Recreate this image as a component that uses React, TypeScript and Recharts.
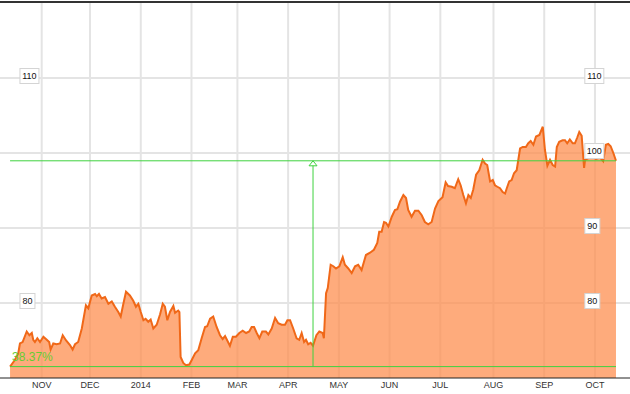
import React from 'react';
import { ComposedChart, Area, XAxis, YAxis, CartesianGrid, ReferenceLine, ReferenceDot } from 'recharts';

// x = trading-day index counted from the first session of November 2013
const DAYS = [
  -13.1, -11.1, -9.7, -9.0, -7.9, -6.2, -5.1, -4.1, -3.5, -2.8, -1.8, -0.7, 0.7, 2.1, 3.1, 3.7, 4.8, 6.2, 7.6, 8.7,
  10.1, 11.7, 12.8, 13.8, 15.1, 16.6, 18.3, 19.3, 20.7, 22.1, 22.8, 23.7, 24.8, 26.2, 27.6, 29.0, 30.3, 31.7, 32.7, 33.8,
  34.9, 36.5, 37.9, 39.0, 40.0, 41.0, 42.1, 43.0, 44.1, 45.1, 46.2, 47.6, 49.0, 50.1, 51.0, 52.0, 53.1, 54.5, 55.2, 56.5,
  57.0, 57.5, 58.6, 59.7, 61.1, 62.1, 63.5, 64.8, 66.2, 67.6, 68.5, 69.7, 71.0, 72.4, 73.8, 74.9, 75.9, 77.9, 79.1, 80.4,
  81.8, 83.2, 84.6, 85.9, 86.9, 87.9, 89.0, 90.1, 91.3, 92.8, 93.8, 95.2, 96.6, 97.9, 99.3, 100.7, 101.7, 102.8, 104.1, 105.5,
  106.6, 107.6, 108.6, 109.4, 110.3, 111.3, 112.3, 113.7, 114.9, 116.3, 116.8, 117.7, 118.4, 119.6, 120.7, 121.8, 123.2, 124.6, 125.5, 126.9,
  128.3, 129.7, 131.0, 132.4, 134.2, 135.9, 137.5, 138.9, 139.7, 140.7, 141.7, 142.5, 143.5, 144.9, 146.2, 147.2, 148.3, 149.7, 150.8, 151.7,
  153.1, 154.5, 155.9, 157.3, 158.6, 160.0, 161.4, 162.8, 164.2, 165.9, 167.2, 168.2, 169.7, 171.0, 172.4, 173.4, 174.5, 175.6, 176.6, 177.6,
  178.6, 179.8, 181.1, 182.5, 183.5, 184.4, 185.6, 186.7, 187.6, 188.6, 189.7, 190.8, 191.8, 192.5, 193.5, 194.5, 195.5, 196.6, 198.0, 199.1,
  200.4, 201.4, 202.4, 203.5, 204.6, 206.0, 207.4, 208.3, 209.3, 210.4, 211.5, 212.5, 213.2, 214.2, 215.6, 216.6, 217.5, 218.6, 219.8, 220.7,
  221.7, 222.5, 223.5, 224.5, 224.9, 226.1, 227.8, 229.4, 231.1, 232.4, 233.5, 234.5, 235.5, 236.6, 237.7,
];

const CLOSE = [
  71.52, 72.4, 73.3, 74.6, 74.8, 76.2, 75.7, 76.0, 75.1, 74.8, 75.3, 74.8, 75.5, 75.1, 74.8, 73.8, 74.6, 74.5, 74.6, 75.7,
  75.0, 74.4, 73.8, 74.5, 74.8, 76.6, 79.7, 79.3, 81.0, 81.2, 80.9, 81.2, 80.6, 80.8, 79.9, 80.2, 79.5, 78.8, 78.2, 79.9,
  81.5, 81.0, 80.3, 79.5, 79.9, 78.8, 77.7, 77.9, 77.5, 77.8, 76.6, 77.1, 78.5, 79.9, 79.5, 77.7, 78.8, 79.6, 78.7, 79.0,
  78.8, 72.8, 72.0, 71.7, 71.8, 72.4, 73.3, 73.7, 75.3, 76.8, 76.9, 77.9, 78.2, 76.8, 75.7, 75.2, 75.6, 74.3, 75.5, 75.5,
  76.0, 76.3, 76.0, 76.2, 76.8, 76.8, 76.0, 75.3, 76.2, 76.2, 75.8, 76.6, 78.0, 77.3, 77.1, 77.1, 77.7, 77.7, 76.6, 75.3,
  75.1, 76.0, 74.8, 75.1, 74.5, 74.7, 74.3, 75.7, 76.2, 76.0, 75.3, 81.3, 82.0, 85.1, 84.9, 84.6, 84.9, 86.1, 85.1, 84.6,
  84.0, 84.9, 85.1, 84.4, 86.4, 86.7, 87.1, 88.0, 89.5, 89.5, 90.8, 90.7, 90.2, 91.5, 92.4, 92.5, 93.5, 94.4, 94.0, 92.4,
  91.5, 92.3, 92.3, 91.7, 90.8, 90.5, 90.8, 92.6, 93.6, 94.1, 96.1, 95.6, 95.5, 95.3, 96.5, 95.7, 94.4, 93.3, 94.4, 94.0,
  95.1, 97.1, 97.7, 99.1, 98.6, 98.4, 96.2, 96.4, 95.7, 95.5, 95.3, 94.8, 94.6, 95.3, 96.2, 96.4, 97.3, 97.7, 100.6, 100.8,
  100.8, 101.3, 101.6, 101.1, 102.2, 102.4, 103.5, 100.4, 98.3, 99.1, 98.4, 98.2, 100.8, 101.5, 101.7, 101.7, 101.3, 101.8, 101.3, 101.3,
  102.1, 102.8, 102.3, 98.0, 99.1, 99.3, 99.5, 99.2, 99.4, 98.9, 101.1, 101.2, 100.9, 100.0, 98.96,
];

// first session of each month
const MONTH_TICKS = [0, 20, 41, 62, 81, 102, 123, 144, 165, 187, 208, 229];
const MONTH_LABELS = ['NOV', 'DEC', '2014', 'FEB', 'MAR', 'APR', 'MAY', 'JUN', 'JUL', 'AUG', 'SEP', 'OCT'];

const PRICE_GRID = [110, 100, 90, 80];
const LEFT_TICKS = [110, 80];
const RIGHT_TICKS = [110, 100, 90, 80];
// where the price boxes sit, on the day axis
const LEFT_BOX_DAY = -9;
const RIGHT_BOX_DAY = 224.8;

const START_PRICE = 71.52;
const END_PRICE = 98.96;
const MARK_DAY = 112.3;
const CHANGE_LABEL = '38.37%';

const data = DAYS.map((d, i) => ({ day: d, close: CLOSE[i] }));
const firstDay = DAYS[0];
const lastDay = DAYS[DAYS.length - 1];

const FONT = 'Arial, "Liberation Sans", sans-serif';
const GREEN = '#3fd23f';
const GRID = '#e4e4e4';

function PriceBox({ cx, cy, value }: any) {
  const w = String(value).length > 2 ? 19 : 15;
  return (
    <g>
      <rect x={cx} y={cy - 9.5} width={w} height={15} fill="#fff" stroke="#d4d4d4" strokeWidth={1} />
      <text x={cx + w / 2} y={cy + 1.2} textAnchor="middle" fontSize={9} fontFamily={FONT} fill="#111">{value}</text>
    </g>
  );
}

function Arrow({ cx, cy }: any) {
  return <path d={`M${cx - 4},${cy + 5} L${cx},${cy} L${cx + 4},${cy + 5} Z`} fill="#fff" stroke={GREEN} strokeWidth={1} />;
}

export default function App() {
  return (
    <div style={{ position: 'absolute', left: 0, top: 0, width: 630, height: 394, background: '#fff' }}>
      <div style={{ position: 'absolute', left: 0, top: 1, width: 630, height: 2, background: '#333' }} />
      <ComposedChart width={630} height={394} data={data} margin={{ top: 3, right: 0, left: 0, bottom: 0 }}>
        <CartesianGrid
          yAxisId="p"
          stroke={GRID}
          strokeWidth={2}
          horizontalValues={PRICE_GRID}
          verticalValues={MONTH_TICKS}
        />
        <XAxis
          dataKey="day"
          type="number"
          domain={[-17.26, 243.5]}
          allowDataOverflow
          ticks={MONTH_TICKS}
          tickFormatter={(v: number) => MONTH_LABELS[MONTH_TICKS.indexOf(v)]}
          height={16}
          tickSize={4}
          tickMargin={0}
          tickLine={false}
          axisLine={{ stroke: '#222', strokeWidth: 1 }}
          tick={{ fontSize: 9, fill: '#333', fontFamily: FONT }}
          interval={0}
        />
        <YAxis yAxisId="p" hide domain={[70, 120]} allowDataOverflow />
        <Area
          yAxisId="p"
          type="linear"
          dataKey="close"
          stroke="#f06818"
          strokeWidth={2}
          fill="#fd8a4a"
          fillOpacity={0.72}
          isAnimationActive={false}
          dot={false}
          activeDot={false}
        />
        <ReferenceLine yAxisId="p" segment={[{ x: firstDay, y: END_PRICE }, { x: lastDay, y: END_PRICE }]} stroke={GREEN} strokeWidth={1} />
        <ReferenceLine
          yAxisId="p"
          segment={[{ x: firstDay, y: START_PRICE }, { x: lastDay, y: START_PRICE }]}
          stroke={GREEN}
          strokeWidth={1}
          label={(p: any) => (
            <text x={p.viewBox.x + 2} y={p.viewBox.y - 6} fontSize={12} fontFamily={FONT} fill="#66cc33">{CHANGE_LABEL}</text>
          )}
        />
        <ReferenceLine yAxisId="p" segment={[{ x: MARK_DAY, y: START_PRICE }, { x: MARK_DAY, y: END_PRICE }]} stroke={GREEN} strokeWidth={1} />
        <ReferenceDot yAxisId="p" x={MARK_DAY} y={END_PRICE} shape={<Arrow />} />
        {LEFT_TICKS.map((v) => (
          <ReferenceDot key={`l${v}`} yAxisId="p" x={LEFT_BOX_DAY} y={v} shape={<PriceBox value={v} />} />
        ))}
        {RIGHT_TICKS.map((v) => (
          <ReferenceDot key={`r${v}`} yAxisId="p" x={RIGHT_BOX_DAY} y={v} shape={<PriceBox value={v} />} />
        ))}
      </ComposedChart>
    </div>
  );
}
